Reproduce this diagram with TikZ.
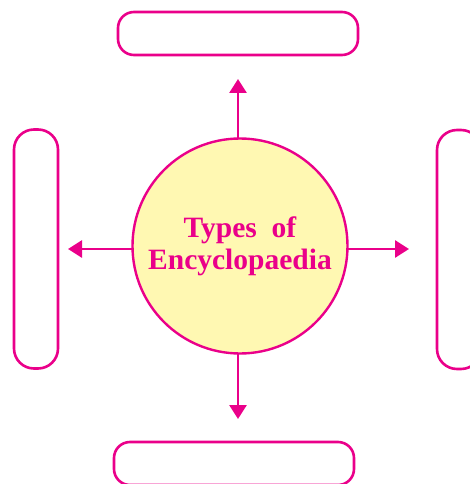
\documentclass[tikz,border=0pt]{standalone}
\usepackage{fontspec}
\setmainfont{Liberation Serif}
\usetikzlibrary{arrows.meta}
\definecolor{mag}{RGB}{234,0,138}
\definecolor{cream}{RGB}{255,248,178}
\begin{document}
\begin{tikzpicture}[x=1pt,y=-1pt,
  box/.style={draw=mag,line width=2.6pt,rounded corners=16pt,inner sep=0pt},
  arr/.style={draw=mag,line width=2.8pt,-{Triangle[width=17pt,length=14pt]}},
  hub/.style={circle,draw=mag,line width=2.4pt,fill=cream,minimum size=215pt,inner sep=0pt,
    font=\fontsize{29.5}{32}\selectfont\bfseries,text=mag,align=center}]
\useasboundingbox (0,0) rectangle (470,484);
\node[hub] (c) at (240,246) {Types\ \ of\\Encyclopaedia};
\node[box,minimum width=240pt,minimum height=43pt] (top) at (238,33.5) {};
\node[box,minimum width=240pt,minimum height=43pt] (bot) at (234,463.5) {};
\node[box,minimum width=44pt,minimum height=239pt,rounded corners=20pt] (lft) at (36,249) {};
\node[box,minimum width=44pt,minimum height=239pt,rounded corners=20pt] (rgt) at (459,249.5) {};
\coordinate (ts) at (238,138);
\coordinate (te) at (238,79);
\coordinate (bs) at (238,354);
\coordinate (be) at (238,419);
\coordinate (ls) at (133,249);
\coordinate (le) at (68,249);
\coordinate (rs) at (347,249);
\coordinate (re) at (409,249);
\draw[arr] (ts) -- (te);
\draw[arr] (bs) -- (be);
\draw[arr] (ls) -- (le);
\draw[arr] (rs) -- (re);
\end{tikzpicture}
\end{document}
